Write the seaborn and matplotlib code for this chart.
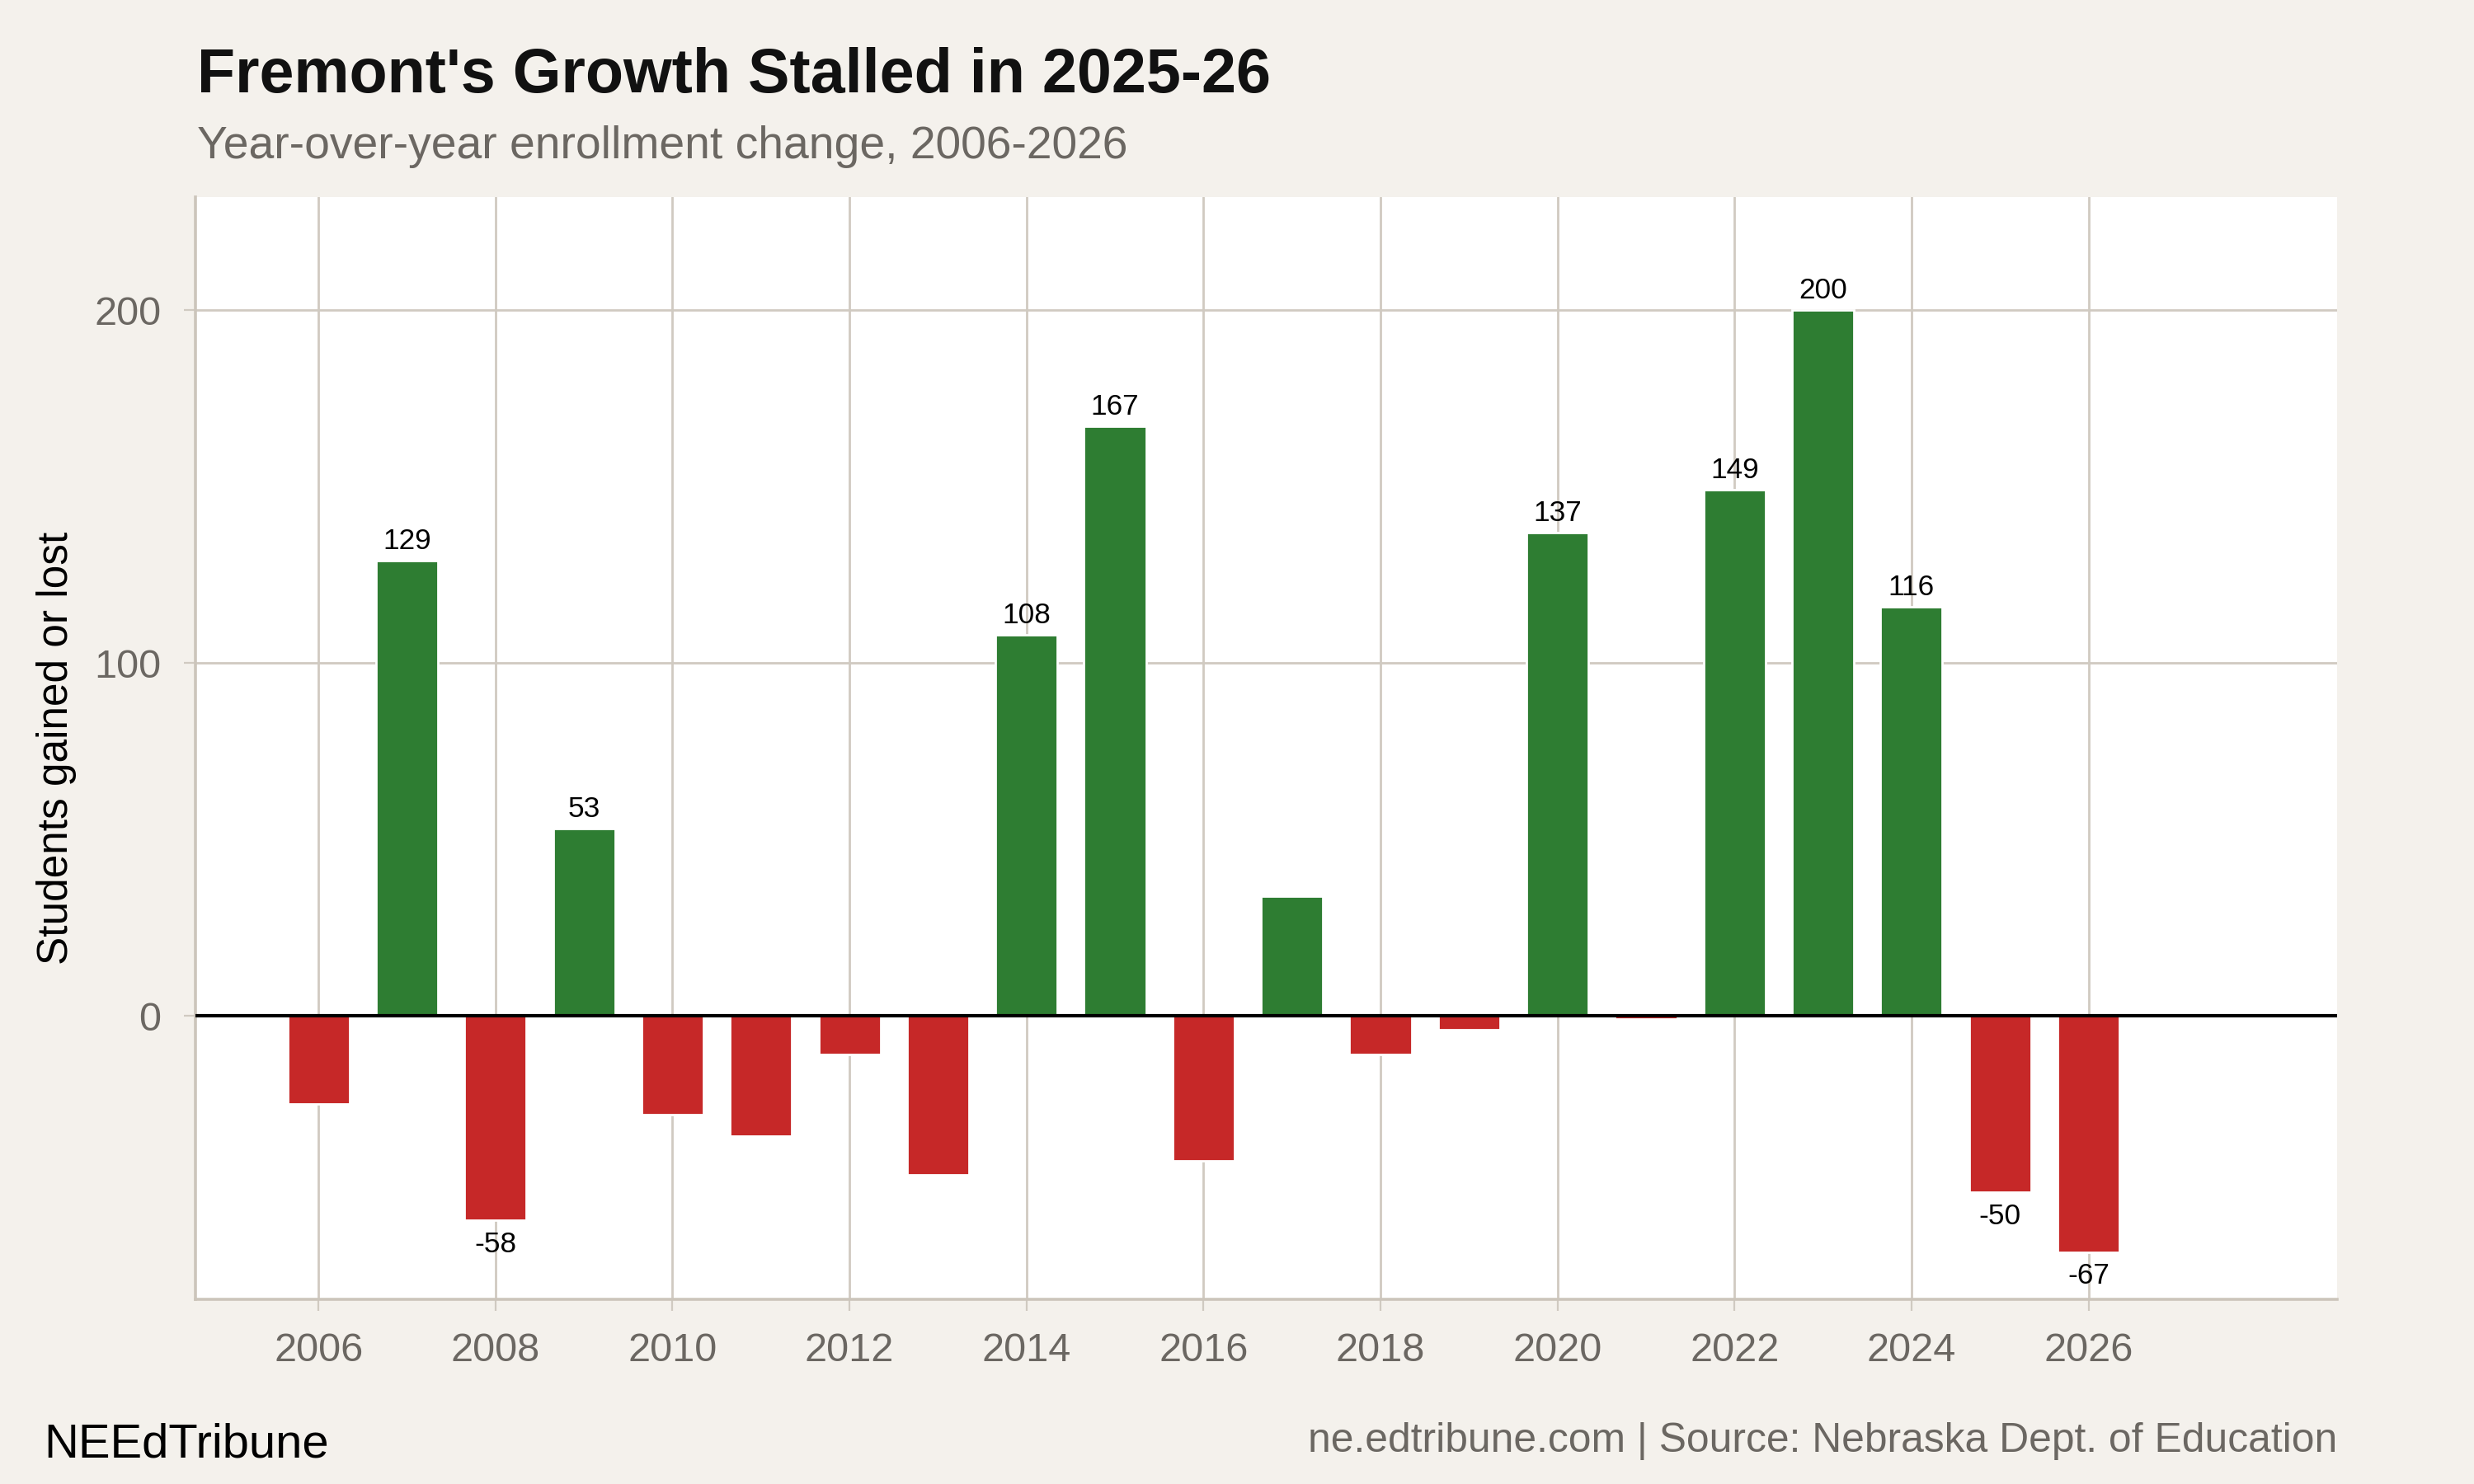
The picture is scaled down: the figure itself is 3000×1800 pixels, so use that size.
import matplotlib
matplotlib.use("Agg")
import matplotlib.pyplot as plt
import seaborn as sns
import pandas as pd

# ---- data ----
years = [2006, 2007, 2008, 2009, 2010, 2011, 2012, 2013, 2014, 2015, 2016,
         2017, 2018, 2019, 2020, 2021, 2022, 2023, 2024, 2025, 2026]
changes = [-25, 129, -58, 53, -28, -34, -11, -45, 108, 167, -41,
           34, -11, -4, 137, -1, 149, 200, 116, -50, -67]
x_ticks = list(range(2006, 2027, 2))
y_ticks = [0, 100, 200]

title = "Fremont's Growth Stalled in 2025-26"
subtitle = "Year-over-year enrollment change, 2006-2026"
y_label = "Students gained or lost"
footer_left = "NEEdTribune"
footer_right = "ne.edtribune.com | Source: Nebraska Dept. of Education"

# ---- style ----
BG = "#F4F1EC"
GREEN = "#2E7D32"
RED = "#C62828"
GRID = "#D0CAC1"
GRAYTXT = "#6B6762"

sns.set_theme(style="white")
plt.rcParams["font.family"] = ["Liberation Sans", "DejaVu Sans"]

df = pd.DataFrame({"year": years, "change": changes})
df["sign"] = ["gain" if v >= 0 else "loss" for v in df["change"]]

fig = plt.figure(figsize=(15, 9), dpi=200, facecolor=BG)
ax = fig.add_axes([0.079, 0.1246, 0.9447 - 0.079, 0.8672 - 0.1246])
ax.set_facecolor("white")

sns.barplot(data=df, x="year", y="change", hue="sign",
            palette={"gain": GREEN, "loss": RED}, native_scale=True,
            width=0.7, dodge=False, saturation=1, legend=False, ax=ax,
            zorder=2)

ax.axhline(0, color="black", lw=1.5, zorder=3)

for yr, v in zip(years, changes):
    if abs(v) >= 50:
        if v >= 0:
            ax.annotate(str(v), (yr, v), xytext=(0, 2.5), textcoords="offset points",
                        ha="center", va="bottom", fontsize=12.7, color="black")
        else:
            ax.annotate(str(v), (yr, v), xytext=(0, -4.5), textcoords="offset points",
                        ha="center", va="top", fontsize=12.7, color="black")

ax.set_xlim(2004.61, 2028.81)
ax.set_ylim(-80.3, 232)
ax.set_xticks(x_ticks)
ax.set_xticklabels([str(t) for t in x_ticks])
ax.set_yticks(y_ticks)
ax.set_yticklabels([str(t) for t in y_ticks])
ax.set_xlabel("")
ax.set_ylabel("")

ax.grid(True, color=GRID, lw=1.0)
ax.set_axisbelow(True)
for s in ["top", "right"]:
    ax.spines[s].set_visible(False)
for s in ["left", "bottom"]:
    ax.spines[s].set_color("#CCC5BB")
    ax.spines[s].set_linewidth(1.3)

ax.tick_params(axis="x", length=5, width=0.8, color=GRID, pad=9.5,
               labelsize=17.5, labelcolor=GRAYTXT, bottom=True)
ax.tick_params(axis="y", length=5, width=0.8, color=GRID, pad=10,
               labelsize=17.5, labelcolor=GRAYTXT, left=True)

fig.text(0.0797, 0.938, title, fontsize=27.2, fontweight="bold", color="#111111",
         ha="left", va="baseline")
fig.text(0.0797, 0.8935, subtitle, fontsize=19.9, color=GRAYTXT,
         ha="left", va="baseline")
fig.text(0.0228, 0.4958, y_label, fontsize=18.5, color="black", rotation=90,
         ha="center", va="center")
fig.text(0.0178, 0.0183, footer_left, fontsize=20.9, color="black",
         ha="left", va="baseline")
fig.text(0.9447, 0.0217, footer_right, fontsize=17.9, color=GRAYTXT,
         ha="right", va="baseline")

fig.savefig("out.png", dpi=200, facecolor=BG)
